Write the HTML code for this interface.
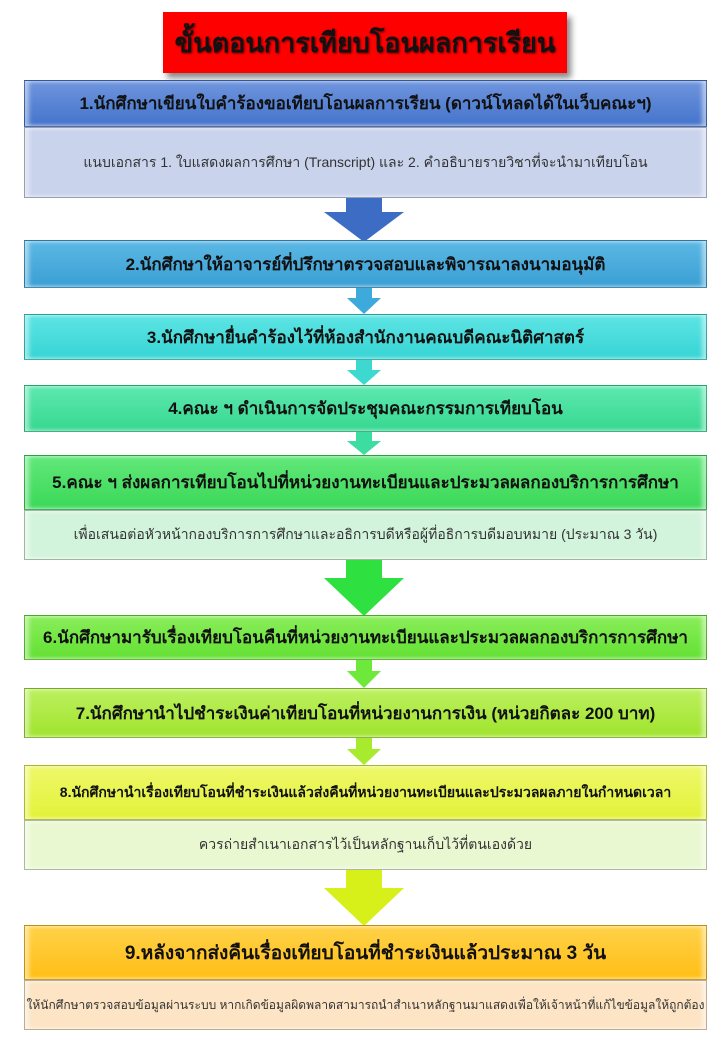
<!DOCTYPE html>
<html><head><meta charset="utf-8"><style>
body{margin:0;width:720px;height:1040px;background:#fff;position:relative;overflow:hidden;font-family:"Liberation Sans",sans-serif}
.b{position:absolute;left:24px;width:683px;box-sizing:border-box;display:flex;align-items:center;justify-content:center;text-align:center;color:#111;border:1px solid rgba(0,0,0,.25);box-shadow:inset 4px 0 4px rgba(255,255,255,.5),inset -4px 0 4px rgba(255,255,255,.5);white-space:nowrap}
.h{font-size:17px;font-weight:bold}
.s{font-size:14px;color:#333}
svg{position:absolute}
</style></head><body>
<div style="position:absolute;left:163px;top:12px;width:404px;height:61px;background:#ff0000;box-shadow:4px 5px 6px #888;display:flex;align-items:center;justify-content:center;font-size:27px;font-weight:bold;color:#111;white-space:nowrap;text-shadow:1px 1px 2px #600">ขั้นตอนการเทียบโอนผลการเรียน</div>

<div class="b h" style="top:80px;height:47px;background:linear-gradient(#6f95dd,#4474cc)">1.นักศึกษาเขียนใบคำร้องขอเทียบโอนผลการเรียน (ดาวน์โหลดได้ในเว็บคณะฯ)</div>
<div class="b s" style="top:127px;height:71px;background:#c9d3ec">แนบเอกสาร 1. ใบแสดงผลการศึกษา (Transcript) และ 2. คำอธิบายรายวิชาที่จะนำมาเทียบโอน</div>
<svg style="left:324px;top:198px" width="80" height="44"><polygon points="22,0 58,0 58,14 80,14 40,44 0,14 22,14" fill="#3d6cc4"/></svg>

<div class="b h" style="top:240px;height:48px;background:linear-gradient(#5cb8e4,#3a9fd4)">2.นักศึกษาให้อาจารย์ที่ปรึกษาตรวจสอบและพิจารณาลงนามอนุมัติ</div>
<svg style="left:347px;top:288px" width="34" height="26"><polygon points="9,0 25,0 25,10 34,10 17,26 0,10 9,10" fill="#3eaadc"/></svg>
<div class="b h" style="top:314px;height:46px;background:linear-gradient(#5ee4e4,#36d4d4)">3.นักศึกษายื่นคำร้องไว้ที่ห้องสำนักงานคณบดีคณะนิติศาสตร์</div>
<svg style="left:347px;top:360px" width="34" height="25"><polygon points="9,0 25,0 25,10 34,10 17,25 0,10 9,10" fill="#3dd8d0"/></svg>
<div class="b h" style="top:385px;height:47px;background:linear-gradient(#5ee8b0,#36d890)">4.คณะ ฯ ดำเนินการจัดประชุมคณะกรรมการเทียบโอน</div>
<svg style="left:347px;top:432px" width="34" height="23"><polygon points="9,0 25,0 25,9 34,9 17,23 0,9 9,9" fill="#3ddca0"/></svg>
<div class="b h" style="top:455px;height:55px;background:linear-gradient(#62e87a,#3ad858)">5.คณะ ฯ ส่งผลการเทียบโอนไปที่หน่วยงานทะเบียนและประมวลผลกองบริการการศึกษา</div>
<div class="b s" style="top:510px;height:50px;background:#d3f4dc">เพื่อเสนอต่อหัวหน้ากองบริการการศึกษาและอธิการบดีหรือผู้ที่อธิการบดีมอบหมาย (ประมาณ 3 วัน)</div>
<svg style="left:324px;top:560px" width="80" height="56"><polygon points="22,0 58,0 58,18 80,18 40,56 0,18 22,18" fill="#2ee040"/></svg>
<div class="b h" style="top:615px;height:45px;background:linear-gradient(#8aee5a,#62e032)">6.นักศึกษามารับเรื่องเทียบโอนคืนที่หน่วยงานทะเบียนและประมวลผลกองบริการการศึกษา</div>
<svg style="left:347px;top:660px" width="34" height="28"><polygon points="9,0 25,0 25,11 34,11 17,28 0,11 9,11" fill="#6ee83a"/></svg>
<div class="b h" style="top:688px;height:50px;background:linear-gradient(#bcf060,#a0e42c)">7.นักศึกษานำไปชำระเงินค่าเทียบโอนที่หน่วยงานการเงิน (หน่วยกิตละ 200 บาท)</div>
<svg style="left:347px;top:738px" width="34" height="27"><polygon points="9,0 25,0 25,11 34,11 17,27 0,11 9,11" fill="#a8ea2e"/></svg>
<div class="b h" style="top:765px;height:55px;background:linear-gradient(#eef86a,#e2f238);font-size:14px">8.นักศึกษานำเรื่องเทียบโอนที่ชำระเงินแล้วส่งคืนที่หน่วยงานทะเบียนและประมวลผลภายในกำหนดเวลา</div>
<div class="b s" style="top:820px;height:50px;background:#eaf8d2">ควรถ่ายสำเนาเอกสารไว้เป็นหลักฐานเก็บไว้ที่ตนเองด้วย</div>
<svg style="left:324px;top:870px" width="80" height="56"><polygon points="22,0 58,0 58,18 80,18 40,56 0,18 22,18" fill="#d8f01a"/></svg>
<div class="b h" style="top:925px;height:55px;background:linear-gradient(#ffd24a,#ffbe14);font-size:19px">9.หลังจากส่งคืนเรื่องเทียบโอนที่ชำระเงินแล้วประมาณ 3 วัน</div>
<div class="b s" style="top:980px;height:50px;background:#fce4c4;font-size:12px">ให้นักศึกษาตรวจสอบข้อมูลผ่านระบบ หากเกิดข้อมูลผิดพลาดสามารถนำสำเนาหลักฐานมาแสดงเพื่อให้เจ้าหน้าที่แก้ไขข้อมูลให้ถูกต้อง</div>
</body></html>
